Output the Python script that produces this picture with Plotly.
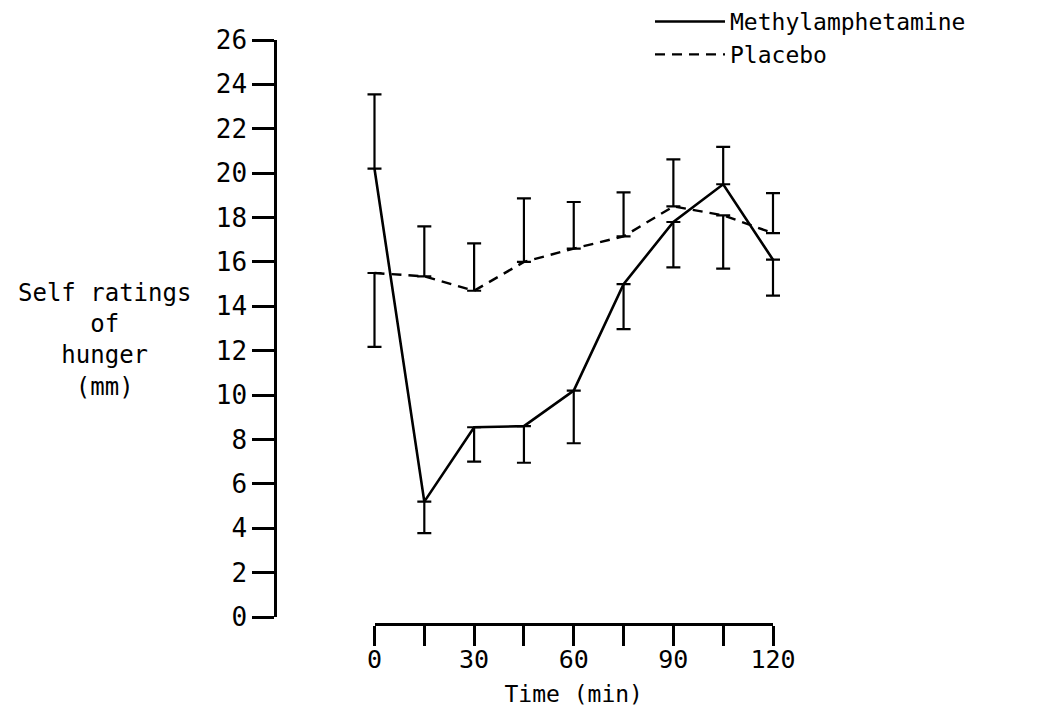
import plotly.graph_objects as go

# time after dosing (min)
times = [0, 15, 30, 45, 60, 75, 90, 105, 120]

# mean self ratings of hunger (mm)
methyl = [20.2, 5.2, 8.55, 8.6, 10.2, 15.0, 17.8, 19.5, 16.1]
placebo = [15.5, 15.35, 14.7, 16.0, 16.6, 17.15, 18.5, 18.1, 17.3]

# one-sided error bars as drawn (upper / lower)
methyl_up = [3.35, 0, 0, 0, 0, 0, 0, 1.68, 0]
methyl_down = [0, 1.42, 1.55, 1.65, 2.37, 2.03, 2.05, 0, 1.62]
placebo_up = [0, 2.25, 2.14, 2.86, 2.10, 1.98, 2.12, 0, 1.80]
placebo_down = [3.33, 0, 0, 0, 0, 0, 0, 2.40, 0]

x_ticks = [0, 15, 30, 45, 60, 75, 90, 105, 120]
x_ticktext = ["0", "", "30", "", "60", "", "90", "", "120"]
y_ticks = list(range(0, 27, 2))

FONT = "DejaVu Sans Mono"
W, H = 1050, 715
OFF = 8  # page body margin shifts the figure by this much


def px(x):
    return (x - OFF) / W


def py(y):
    return (H - (y - OFF)) / H


# screen pixel layout
X0_PX, X120_PX = 374.5, 773
PAD = 6
Y0_PX, Y26_PX = 617, 40
YAXIS_PX = 275
XAXIS_PX = 623

px_per_min = (X120_PX - X0_PX) / (x_ticks[-1] - x_ticks[0])

fig = go.Figure()

fig.add_trace(go.Scatter(
    x=times, y=methyl, mode="lines", name="Methylamphetamine",
    line=dict(color="black", width=2.6),
    error_y=dict(type="data", symmetric=False, array=methyl_up,
                 arrayminus=methyl_down, width=7, thickness=2.2, color="black"),
))
fig.add_trace(go.Scatter(
    x=times, y=placebo, mode="lines", name="Placebo",
    line=dict(color="black", width=2.4, dash="10px,7px"),
    error_y=dict(type="data", symmetric=False, array=placebo_up,
                 arrayminus=placebo_down, width=7, thickness=2.2, color="black"),
))
# empty trace so the separate time axis gets drawn
fig.add_trace(go.Scatter(x=[], y=[], xaxis="x2", yaxis="y2",
                         showlegend=False, hoverinfo="skip"))

fig.update_layout(
    width=W, height=H, autosize=False,
    margin=dict(l=0, r=0, t=0, b=0, autoexpand=False),
    paper_bgcolor="white", plot_bgcolor="rgba(0,0,0,0)",
    font=dict(family=FONT, color="black", size=24),
    showlegend=True,
    legend=dict(x=px(650), y=py(0), xanchor="left", yanchor="top",
                font=dict(size=23), itemwidth=70, bgcolor="rgba(0,0,0,0)",
                tracegroupgap=0),
    # data axis (hidden), a little wider than 0-120 so end bars are whole
    xaxis=dict(
        domain=[px(X0_PX - PAD * px_per_min), px(X120_PX + PAD * px_per_min)],
        range=[x_ticks[0] - PAD, x_ticks[-1] + PAD],
        anchor="y", visible=False, automargin=False,
    ),
    yaxis=dict(
        domain=[py(Y0_PX), py(Y26_PX)], range=[0, 26],
        anchor="free", position=px(YAXIS_PX), automargin=False,
        showgrid=False, zeroline=False,
        showline=True, linecolor="black", linewidth=2.5,
        ticks="outside", ticklen=22, tickwidth=2.5, tickcolor="black",
        tickvals=y_ticks, tickfont=dict(size=26),
    ),
    # visible time axis, spanning exactly 0-120 on the same scale
    xaxis2=dict(
        domain=[px(X0_PX), px(X120_PX)], range=[x_ticks[0], x_ticks[-1]],
        anchor="y2", automargin=False,
        showgrid=False, zeroline=False,
        showline=True, linecolor="black", linewidth=2.5,
        ticks="outside", ticklen=20, tickwidth=2.5, tickcolor="black",
        tickvals=x_ticks, ticktext=x_ticktext,
        tickfont=dict(size=25), ticklabelstandoff=-8,
        title=dict(text="Time (min)", font=dict(size=23), standoff=14),
    ),
    yaxis2=dict(
        domain=[py(XAXIS_PX), py(XAXIS_PX - 4)], range=[0, 1],
        anchor="x2", visible=False, automargin=False,
    ),
    annotations=[dict(
        text="Self ratings<br>of<br>hunger<br>(mm)",
        xref="paper", yref="paper", x=px(104), y=py(340),
        xanchor="center", yanchor="middle", showarrow=False, align="center",
        font=dict(size=24),
    )],
)

fig.write_html("out.html")
